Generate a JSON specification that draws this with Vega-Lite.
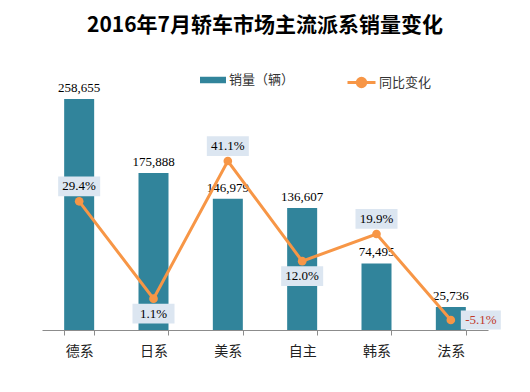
{
  "$schema": "https://vega.github.io/schema/vega-lite/v6.json",
  "width": 446,
  "height": 250,
  "autosize": {"type": "none"},
  "padding": {"left": 42, "top": 80, "right": 42, "bottom": 62},
  "background": "white",
  "config": {
    "view": {"stroke": null},
    "locale": {"number": {"decimal": ".", "thousands": ",", "grouping": [3], "currency": ["", ""], "minus": "-"}}
  },
  "title": {
    "text": "2016年7月轿车市场主流派系销量变化",
    "font": "Noto Sans CJK SC",
    "fontSize": 21,
    "fontWeight": "bold",
    "color": "#000000",
    "anchor": "middle",
    "frame": "group",
    "offset": 31
  },
  "data": {
    "values": [
      {"cat": "德系", "sales": 258655, "pct": 0.294},
      {"cat": "日系", "sales": 175888, "pct": 0.011},
      {"cat": "美系", "sales": 146979, "pct": 0.411},
      {"cat": "自主", "sales": 136607, "pct": 0.120},
      {"cat": "韩系", "sales": 74495, "pct": 0.199},
      {"cat": "法系", "sales": 25736, "pct": -0.051}
    ]
  },
  "encoding": {
    "x": {
      "field": "cat",
      "type": "nominal",
      "sort": null,
      "scale": {"paddingInner": 0.6, "paddingOuter": 0.3},
      "axis": {
        "title": null,
        "labelAngle": 0,
        "labelFont": "Noto Sans CJK SC",
        "labelFontSize": 14,
        "labelColor": "#222222",
        "labelPadding": 9,
        "domainColor": "#8c8c8c",
        "tickColor": "#8c8c8c",
        "tickSize": 5,
        "tickBand": "extent",
        "grid": false
      }
    }
  },
  "layer": [
    {
      "mark": {"type": "bar", "width": 30},
      "encoding": {
        "y": {"field": "sales", "type": "quantitative", "scale": {"domain": [0, 280000], "nice": false}, "axis": null},
        "color": {
          "datum": "销量（辆）",
          "scale": {"range": ["#31849b"]},
          "legend": {
            "title": null,
            "orient": "none",
            "legendX": 158,
            "legendY": -13,
            "symbolType": "M-1,-0.25H1V0.25H-1Z",
            "symbolSize": 676,
            "symbolStrokeWidth": 0,
            "labelFont": "Noto Sans CJK SC",
            "labelFontSize": 13,
            "labelColor": "#333333",
            "labelOffset": 3
          }
        }
      }
    },
    {
      "mark": {"type": "text", "baseline": "bottom", "dy": -4, "font": "Liberation Serif", "fontSize": 13, "color": "#000000"},
      "encoding": {
        "y": {"field": "sales", "type": "quantitative", "scale": {"domain": [0, 280000], "nice": false}, "axis": null},
        "text": {"field": "sales", "type": "quantitative", "format": ","}
      }
    },
    {
      "mark": {"type": "line", "strokeWidth": 3},
      "encoding": {
        "y": {"field": "pct", "type": "quantitative", "scale": {"domain": [-0.080, 0.6465], "nice": false, "zero": false}, "axis": null},
        "stroke": {
          "datum": "同比变化",
          "scale": {"range": ["#f79646"]},
          "legend": {
            "title": null,
            "orient": "none",
            "legendX": 304,
            "legendY": -13,
            "symbolType": "M-1,0H1M0.3,0A0.3,0.3,0,1,1,-0.3,0A0.3,0.3,0,1,1,0.3,0Z",
            "symbolSize": 784,
            "symbolStrokeWidth": 3,
            "labelFont": "Noto Sans CJK SC",
            "labelFontSize": 13,
            "labelColor": "#333333",
            "labelOffset": 2,
            "encode": {"symbols": {"update": {"fill": {"value": "#f79646"}, "stroke": {"value": "#f79646"}}}}
          }
        }
      }
    },
    {
      "mark": {"type": "point", "shape": "circle", "filled": true, "opacity": 1, "size": 75, "color": "#f79646"},
      "encoding": {
        "y": {"field": "pct", "type": "quantitative", "scale": {"domain": [-0.080, 0.6465], "nice": false, "zero": false}, "axis": null}
      }
    },
    {
      "transform": [{"filter": {"field": "cat", "oneOf": ["德系", "美系", "韩系"]}}],
      "mark": {"type": "point", "shape": "M-1,-0.47H1V0.47H-1Z", "filled": true, "opacity": 1, "size": 1764, "color": "#dce6f1", "yOffset": -15},
      "encoding": {
        "y": {"field": "pct", "type": "quantitative", "scale": {"domain": [-0.080, 0.6465], "nice": false, "zero": false}, "axis": null}
      }
    },
    {
      "transform": [{"filter": {"field": "cat", "oneOf": ["德系", "美系", "韩系"]}}],
      "mark": {"type": "text", "baseline": "middle", "dy": -15, "font": "Liberation Serif", "fontSize": 13, "color": "#000000"},
      "encoding": {
        "y": {"field": "pct", "type": "quantitative", "scale": {"domain": [-0.080, 0.6465], "nice": false, "zero": false}, "axis": null},
        "text": {"field": "pct", "type": "quantitative", "format": ".1%"}
      }
    },
    {
      "transform": [{"filter": {"field": "cat", "oneOf": ["日系", "自主"]}}],
      "mark": {"type": "point", "shape": "M-1,-0.47H1V0.47H-1Z", "filled": true, "opacity": 1, "size": 1764, "color": "#dce6f1", "yOffset": 15},
      "encoding": {
        "y": {"field": "pct", "type": "quantitative", "scale": {"domain": [-0.080, 0.6465], "nice": false, "zero": false}, "axis": null}
      }
    },
    {
      "transform": [{"filter": {"field": "cat", "oneOf": ["日系", "自主"]}}],
      "mark": {"type": "text", "baseline": "middle", "dy": 15, "font": "Liberation Serif", "fontSize": 13, "color": "#000000"},
      "encoding": {
        "y": {"field": "pct", "type": "quantitative", "scale": {"domain": [-0.080, 0.6465], "nice": false, "zero": false}, "axis": null},
        "text": {"field": "pct", "type": "quantitative", "format": ".1%"}
      }
    },
    {
      "transform": [{"filter": {"field": "cat", "equal": "法系"}}],
      "mark": {"type": "point", "shape": "M-1,-0.47H1V0.47H-1Z", "filled": true, "opacity": 1, "size": 1600, "color": "#dce6f1", "xOffset": 30},
      "encoding": {
        "y": {"field": "pct", "type": "quantitative", "scale": {"domain": [-0.080, 0.6465], "nice": false, "zero": false}, "axis": null}
      }
    },
    {
      "transform": [{"filter": {"field": "cat", "equal": "法系"}}],
      "mark": {"type": "text", "baseline": "middle", "dx": 30, "font": "Liberation Serif", "fontSize": 13, "color": "#c0392b"},
      "encoding": {
        "y": {"field": "pct", "type": "quantitative", "scale": {"domain": [-0.080, 0.6465], "nice": false, "zero": false}, "axis": null},
        "text": {"field": "pct", "type": "quantitative", "format": ".1%"}
      }
    }
  ],
  "resolve": {"scale": {"y": "independent"}}
}
